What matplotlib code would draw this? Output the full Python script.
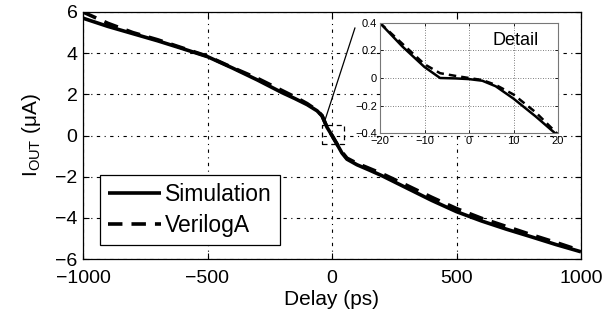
import matplotlib
matplotlib.use("Agg")
import matplotlib.pyplot as plt

plt.rcParams['font.family'] = ['Liberation Sans', 'DejaVu Sans']
plt.rcParams['mathtext.fontset'] = 'custom'
plt.rcParams['mathtext.rm'] = 'Liberation Sans'

# Main data
delay = [-1000, -900, -800, -700, -600, -500, -400, -300, -200, -150, -100, -60, -40, -20,
         0, 20, 40, 60, 100, 150, 200, 300, 400, 500, 600, 700, 800, 900, 1000]
sim = [5.7, 5.3, 4.95, 4.6, 4.22, 3.83, 3.28, 2.7, 2.08, 1.8, 1.5, 1.2, 0.95, 0.4,
       0.0, -0.42, -0.85, -1.15, -1.42, -1.68, -1.95, -2.55, -3.15, -3.7, -4.15, -4.55, -4.92, -5.3, -5.65]
veriloga = [6.0, 5.45, 5.0, 4.65, 4.25, 3.85, 3.3, 2.78, 2.18, 1.88, 1.55, 1.22, 0.97, 0.4,
            0.0, -0.41, -0.8, -1.1, -1.35, -1.6, -1.85, -2.42, -3.0, -3.55, -4.02, -4.42, -4.82, -5.2, -5.6]

# Inset (detail) data
delay_in = [-20, -15, -10, -6.5, -3, 0, 3, 6, 10, 15, 20]
sim_in = [0.40, 0.23, 0.08, 0.0, -0.003, -0.008, -0.02, -0.06, -0.15, -0.28, -0.42]
ver_in = [0.40, 0.25, 0.10, 0.035, 0.015, 0.0, -0.015, -0.05, -0.12, -0.25, -0.41]

xticks = [-1000, -500, 0, 500, 1000]
yticks = [-6, -4, -2, 0, 2, 4, 6]
xticks_in = [-20, -10, 0, 10, 20]
yticks_in = [-0.4, -0.2, 0, 0.2, 0.4]

fig = plt.figure(figsize=(6.07, 3.22), dpi=100)
ax = fig.add_axes([83/607, 1-259/322, (581-83)/607, (259-12)/322])
ax.plot(delay, sim, color='black', lw=2.6, solid_capstyle='butt', label='Simulation')
ax.plot(delay, veriloga, color='black', lw=2.6, ls=(0, (4, 2.5)), label='VerilogA')
ax.set_xlim(-1000, 1000)
ax.set_ylim(-6, 6)
ax.set_xticks(xticks)
ax.set_yticks(yticks)
ax.set_xticklabels([str(t).replace('-', '\u2212') for t in xticks])
ax.set_yticklabels([str(t).replace('-', '\u2212') for t in yticks])
ax.tick_params(direction='in', labelsize=14, length=4, top=True, right=True, width=0.8)
ax.tick_params(axis='x', pad=8)
ax.tick_params(axis='y', pad=4)
ax.grid(True, color='black', ls=(0, (3, 4, 1, 4)), lw=0.8)
for s in ax.spines.values():
    s.set_linewidth(0.9)
ax.set_xlabel('Delay (ps)', fontsize=15, labelpad=2)
ax.set_ylabel(r'I$_{\mathrm{OUT}}$ ($\mathrm{\mu}$A)', fontsize=15, labelpad=9)
leg = ax.legend(loc='lower left', bbox_to_anchor=(0.034, 0.057), fontsize=16.5, frameon=True,
                fancybox=False, edgecolor='black', framealpha=1, handlelength=2.3,
                borderpad=0.35, labelspacing=0.35, handletextpad=0.2, borderaxespad=0)
leg.get_frame().set_linewidth(0.9)

# zoom box and connecting line
ax.plot([-40, 48, 48, -40, -40], [-0.4, -0.4, 0.5, 0.5, -0.4], color='black', lw=0.9, ls=(0, (4, 3)))
ax.plot([-28, 92], [0.75, 5.22], color='black', lw=0.9)

# inset
axin = fig.add_axes([380/607, 1-133/322, (558-380)/607, (133-23)/322])
axin.plot(delay_in, sim_in, color='black', lw=1.8)
axin.plot(delay_in, ver_in, color='black', lw=1.8, ls=(0, (3, 2)))
axin.set_xlim(-20, 20)
axin.set_ylim(-0.4, 0.4)
axin.set_xticks(xticks_in)
axin.set_yticks(yticks_in)
axin.set_xticklabels([str(t).replace('-', '\u2212') for t in xticks_in])
axin.set_yticklabels(['\u22120.4', '\u22120.2', '0', '0.2', '0.4'])
axin.tick_params(direction='in', labelsize=8, length=2, top=True, right=True, width=0.6, pad=2)
axin.grid(True, color='#555555', ls=(0, (1, 2)), lw=0.6)
for s in axin.spines.values():
    s.set_linewidth(0.8)
    s.set_color('#777777')
axin.text(0.89, 0.845, 'Detail', transform=axin.transAxes, fontsize=13, ha='right', va='center')

fig.savefig('out.png', dpi=100)
